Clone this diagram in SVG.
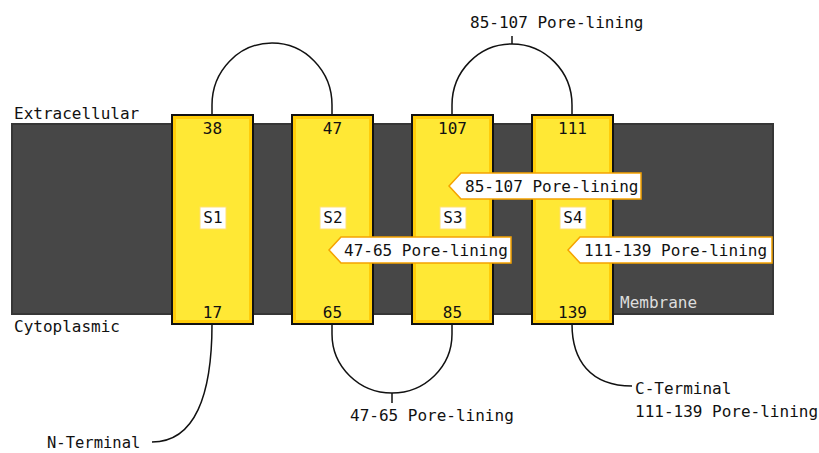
<svg xmlns="http://www.w3.org/2000/svg" width="819" height="453" viewBox="0 0 819 453">
<style>
text{font-family:"DejaVu Sans Mono","Liberation Mono",monospace;font-size:16px;fill:#111}
.mid{text-anchor:middle}
.helix{fill:#ffe835;stroke:#111;stroke-width:2}
.glow{fill:none;stroke:#ffc400;stroke-width:3;opacity:.8}
.sbox{fill:#fff;stroke:#ffe070;stroke-width:1}
.call{fill:#fff;stroke:#f5a300;stroke-width:1.5}
.conn{fill:none;stroke:#111;stroke-width:1.5}
</style>
<rect width="819" height="453" fill="#fff"/>
<g id="membrane">
<rect x="12" y="124" width="761" height="190" fill="#474747" stroke="#363636" stroke-width="2"/>
<text x="620" y="308" style="fill:#ddd">Membrane</text>
</g>
<text x="14" y="119">Extracellular</text>
<text x="14" y="332">Cytoplasmic</text>
<g id="connectors">
<path class="conn" d="M212,115 V105 A60,62 0 0 1 332,105 V115"/>
<path class="conn" d="M452,115 V105 A60,61 0 0 1 572,105 V115"/>
<path class="conn" d="M512,44 V36"/>
<path class="conn" d="M332,324 V334 A60,59 0 0 0 452,334 V324"/>
<path class="conn" d="M392,393 V403"/>
<path class="conn" d="M212,324 C212,395 195,442 152,442"/>
<path class="conn" d="M572,324 C572,360 590,386 632,386"/>
</g>
<g id="S1">
<rect class="helix" x="172" y="115" width="81" height="209"/>
<rect class="glow" x="174.5" y="117.5" width="76" height="204"/>
<text class="mid" x="212.5" y="134">38</text>
<text class="mid" x="212.5" y="318">17</text>
<rect class="sbox" x="200" y="207" width="26" height="22"/>
<text class="mid" x="213" y="223">S1</text>
</g>
<g id="S2">
<rect class="helix" x="292" y="115" width="81" height="209"/>
<rect class="glow" x="294.5" y="117.5" width="76" height="204"/>
<text class="mid" x="332.5" y="134">47</text>
<text class="mid" x="332.5" y="318">65</text>
<rect class="sbox" x="320" y="207" width="26" height="22"/>
<text class="mid" x="333" y="223">S2</text>
</g>
<g id="S3">
<rect class="helix" x="412" y="115" width="81" height="209"/>
<rect class="glow" x="414.5" y="117.5" width="76" height="204"/>
<text class="mid" x="452.5" y="134">107</text>
<text class="mid" x="452.5" y="318">85</text>
<rect class="sbox" x="440" y="207" width="26" height="22"/>
<text class="mid" x="453" y="223">S3</text>
</g>
<g id="S4">
<rect class="helix" x="532" y="115" width="81" height="209"/>
<rect class="glow" x="534.5" y="117.5" width="76" height="204"/>
<text class="mid" x="572.5" y="134">111</text>
<text class="mid" x="572.5" y="318">139</text>
<rect class="sbox" x="560" y="207" width="26" height="22"/>
<text class="mid" x="573" y="223">S4</text>
</g>
<g id="callout-47-65">
<path class="call" d="M341,237 H511 V263 H341 L329,250 Z"/>
<text x="344" y="256">47-65 Pore-lining</text>
</g>
<g id="callout-85-107">
<path class="call" d="M461,173 H641 V199 H461 L449,186 Z"/>
<text x="465" y="192">85-107 Pore-lining</text>
</g>
<g id="callout-111-139">
<path class="call" d="M580,237 H772 V263 H580 L568,250 Z"/>
<text x="584" y="256">111-139 Pore-lining</text>
</g>
<g id="label-top">
<text x="470" y="28">85-107 Pore-lining</text>
</g>
<g id="label-bottom">
<text x="350" y="421">47-65 Pore-lining</text>
</g>
<g id="n-terminal">
<text x="47" y="448" style="font-size:15.5px">N-Terminal</text>
</g>
<g id="c-terminal">
<text x="635" y="394">C-Terminal</text>
<text x="635" y="417">111-139 Pore-lining</text>
</g>
</svg>
